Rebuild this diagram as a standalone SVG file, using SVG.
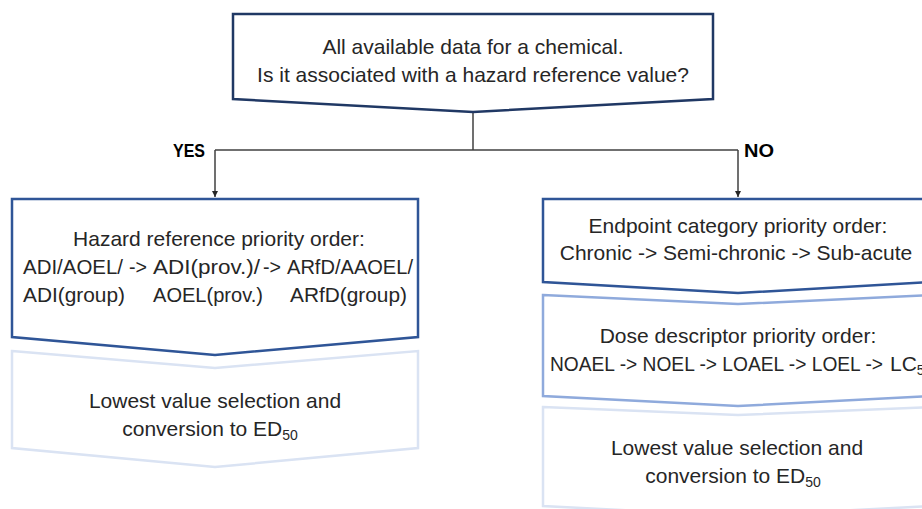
<svg xmlns="http://www.w3.org/2000/svg" width="922" height="509" viewBox="0 0 922 509">
<defs>
<marker id="arr" viewBox="0 0 10 10" refX="10" refY="5" markerWidth="6" markerHeight="6" markerUnits="userSpaceOnUse" orient="auto">
<path d="M0,0 L10,5 L0,10 z" fill="#262626"/>
</marker>
</defs>
<style>
text{font-family:"Liberation Sans",Arial,sans-serif;font-size:21px;fill:#262626;}
.lbl{font-weight:bold;font-size:19px;fill:#000;}
.sub{font-size:14px;}
.box{fill:#fff;stroke-width:2.5;stroke-linejoin:miter;}
.navy{stroke:#203864;}
.blue{stroke:#2F5597;}
.mid{stroke:#8FAADC;}
.light{stroke:#DAE3F3;}
.conn{fill:none;stroke:#404040;stroke-width:1.5;}
</style>
<rect width="922" height="509" fill="#fff"/>

<g id="connectors">
<path class="conn" d="M473,112 V150"/>
<path class="conn" d="M215,150 H738"/>
<path class="conn" d="M215,150 V197" marker-end="url(#arr)"/>
<path class="conn" d="M738,150 V197" marker-end="url(#arr)"/>
<text class="lbl" x="173" y="157" textLength="32" lengthAdjust="spacingAndGlyphs">YES</text>
<text class="lbl" x="744" y="157" textLength="30" lengthAdjust="spacingAndGlyphs">NO</text>
</g>

<g id="question">
<path class="box navy" d="M233,14 H713 V99 L473,112 L233,99 Z"/>
<text x="473" y="54" text-anchor="middle">All available data for a chemical.</text>
<text x="473" y="82" text-anchor="middle">Is it associated with a hazard reference value?</text>
</g>

<g id="yes-lowest">
<path class="box light" d="M12,351 L215,368 L418,351 V448 L215,467 L12,448 Z"/>
<text x="215" y="408" text-anchor="middle">Lowest value selection and</text>
<text x="210" y="436" text-anchor="middle">conversion to ED<tspan class="sub" dy="4">50</tspan></text>
</g>

<g id="yes-hazard">
<path class="box blue" d="M12,199 H418 V337 L215,355 L12,337 Z"/>
<text x="219" y="246" text-anchor="middle">Hazard reference priority order:</text>
<text y="274"><tspan x="23" textLength="100" lengthAdjust="spacingAndGlyphs">ADI/AOEL/</tspan><tspan x="129" textLength="18" lengthAdjust="spacingAndGlyphs">-&gt;</tspan><tspan x="153" textLength="107" lengthAdjust="spacingAndGlyphs">ADI(prov.)/</tspan><tspan x="263" textLength="18" lengthAdjust="spacingAndGlyphs">-&gt;</tspan><tspan x="287" textLength="126" lengthAdjust="spacingAndGlyphs">ARfD/AAOEL/</tspan></text>
<text y="302"><tspan x="23" textLength="102" lengthAdjust="spacingAndGlyphs">ADI(group)</tspan><tspan x="153" textLength="110" lengthAdjust="spacingAndGlyphs">AOEL(prov.)</tspan><tspan x="290" textLength="117" lengthAdjust="spacingAndGlyphs">ARfD(group)</tspan></text>
</g>

<g id="no-lowest">
<path class="box light" d="M543,407 L738,415 L933,407 V506 L738,516 L543,506 Z"/>
<text x="737" y="455" text-anchor="middle">Lowest value selection and</text>
<text x="733" y="483" text-anchor="middle">conversion to ED<tspan class="sub" dy="4">50</tspan></text>
</g>

<g id="no-dose">
<path class="box mid" d="M543,295 L738,304 L933,295 V396 L738,406 L543,396 Z"/>
<text x="738" y="343" text-anchor="middle">Dose descriptor priority order:</text>
<text y="371"><tspan x="550" textLength="333" lengthAdjust="spacingAndGlyphs">NOAEL -&gt; NOEL -&gt; LOAEL -&gt; LOEL -&gt;</tspan><tspan x="890">LC</tspan><tspan class="sub" dy="4">50</tspan></text>
</g>

<g id="no-endpoint">
<path class="box blue" d="M543,199 H933 V282 L738,293 L543,282 Z"/>
<text x="738" y="233" text-anchor="middle">Endpoint category priority order:</text>
<text x="736" y="260" text-anchor="middle">Chronic -&gt; Semi-chronic -&gt; Sub-acute</text>
</g>
</svg>
